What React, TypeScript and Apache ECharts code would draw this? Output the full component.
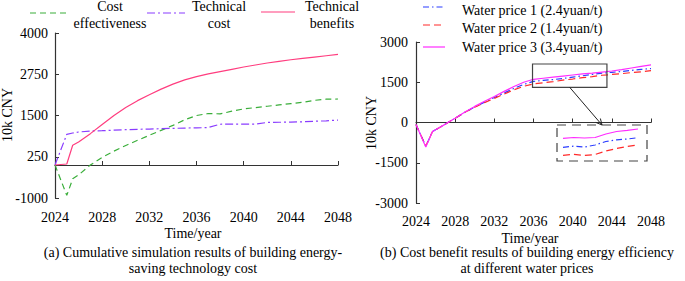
import React, { useEffect, useRef } from "react";
import * as echarts from "echarts";

// ---------- data (a) ----------
const leftYears = [2024, 2025, 2025.5, 2026, 2027, 2028, 2029, 2030, 2031, 2032, 2033, 2034, 2035, 2036, 2037, 2038, 2039, 2040, 2041, 2042, 2043, 2044, 2045, 2046, 2047, 2048];
const costEffectiveness = [0, -920, -420, -300, 0, 230, 420, 590, 750, 900, 1050, 1200, 1370, 1500, 1560, 1550, 1630, 1700, 1740, 1780, 1820, 1860, 1900, 1960, 1995, 2000];
const technicalCost = [0, 930, 970, 1000, 1030, 1040, 1055, 1070, 1080, 1090, 1100, 1110, 1120, 1125, 1135, 1235, 1240, 1240, 1240, 1290, 1295, 1300, 1310, 1325, 1340, 1360];
const technicalBenefits = [0, 30, 600, 700, 950, 1230, 1500, 1740, 1950, 2130, 2300, 2450, 2580, 2680, 2760, 2830, 2900, 2970, 3030, 3090, 3140, 3190, 3230, 3270, 3310, 3350];
const leftYTicks = [-1000, 250, 1500, 2750, 4000];

// ---------- data (b) ----------
const rightYears = [2024, 2025, 2025.7, 2026, 2027, 2028, 2029, 2030, 2031, 2032, 2033, 2034, 2035, 2036, 2037, 2038, 2039, 2040, 2041, 2042, 2043, 2044, 2045, 2046, 2047, 2048];
const waterPrice1 = [-75, -880, -330, -270, -60, 160, 380, 580, 760, 930, 1100, 1270, 1420, 1530, 1570, 1600, 1640, 1690, 1740, 1790, 1840, 1870, 1900, 1940, 1980, 2010];
const waterPrice2 = [-75, -880, -330, -270, -60, 160, 380, 570, 740, 900, 1060, 1220, 1350, 1440, 1480, 1520, 1580, 1620, 1670, 1710, 1760, 1790, 1820, 1860, 1890, 1930];
const waterPrice3 = [-75, -910, -330, -270, -60, 160, 390, 600, 790, 970, 1160, 1340, 1500, 1610, 1650, 1690, 1730, 1770, 1810, 1840, 1880, 1920, 1970, 2030, 2090, 2150];

// ---------- magnified inset (b) ----------
const insetYears = [2036, 2037, 2038, 2039, 2040, 2041, 2042, 2043];
const insetPrice3 = [1778, 1792, 1783, 1792, 1850, 1892, 1912, 1933];
const insetPrice1 = [1628, 1647, 1633, 1667, 1725, 1753, 1767, 1788];
const insetPrice2 = [1495, 1512, 1492, 1508, 1567, 1608, 1642, 1667];
const zoomBox = { from: 2035.9, to: 2043.5, low: 1310, high: 2180 };

const pairs = (xs: number[], ys: number[]) => xs.map((x, i) => [x, ys[i]]);

const FAMILY = "Liberation Serif";
const AXIS = "#333";
const GREEN = "#3aae3a";
const PURPLE = "#8a3cff";
const PINK = "#ff3d7f";
const BLUE = "#2a3cff";
const RED = "#ff2a2a";
const MAGENTA = "#ff2bff";

const dashGreen = [6, 4];
const dashPurple = [8, 3, 2, 3];
const dashBlue = [6, 3, 1.5, 3];
const dashRed = [7, 4];

const plain = (v: number) => String(v);
const labelStyle = { color: "#000", fontFamily: FAMILY, fontSize: 14, fontWeight: "normal" };

function xAxisCfg(gridIndex: number, margin: number) {
  return {
    type: "value",
    gridIndex,
    min: 2024,
    max: 2048,
    interval: 4,
    axisLine: { show: true, lineStyle: { color: AXIS, width: 1.2 } },
    axisTick: { show: true, inside: true, length: 4, lineStyle: { color: AXIS } },
    axisLabel: { margin, ...labelStyle, formatter: plain },
    splitLine: { show: false },
  };
}

function text(x: number, y: number, t: string, extra: any = {}) {
  return {
    type: "text",
    x,
    y,
    style: {
      text: t,
      fill: "#000",
      fontFamily: FAMILY,
      fontSize: 14,
      align: "center",
      verticalAlign: "middle",
      ...extra,
    },
  };
}

function sample(x1: number, x2: number, y: number, color: string, dash: number[] | null) {
  return {
    type: "line",
    shape: { x1, y1: y, x2, y2: y },
    style: { stroke: color, lineWidth: 1.2, lineDash: dash || undefined },
  };
}

export default function App() {
  const ref = useRef<HTMLDivElement>(null);
  useEffect(() => {
    if (!ref.current) return;
    const chart = echarts.init(ref.current, null, { renderer: "svg" });
    const lineSeries = (name: string, xi: number, data: any[], color: string, dash: any, z = 2) => ({
      type: "line",
      name,
      xAxisIndex: xi,
      yAxisIndex: xi,
      data,
      showSymbol: false,
      symbol: "none",
      smooth: false,
      z,
      lineStyle: { color, width: 1.2, type: dash },
    });

    const baseGraphics: any[] = [
      // legend (a)
      sample(30, 68, 13, GREEN, dashGreen),
      text(110, 6, "Cost"),
      text(110, 23, "effectiveness"),
      sample(147, 185, 13, PURPLE, dashPurple),
      text(219, 6, "Technical"),
      text(219, 23, "cost"),
      sample(261, 295, 12, PINK, null),
      text(332, 6, "Technical"),
      text(332, 23, "benefits"),
      // legend (b)
      sample(423, 445, 7, BLUE, dashBlue),
      text(462, 10, "Water price 1 (2.4yuan/t)", { align: "left" }),
      sample(423, 445, 25, RED, dashRed),
      text(462, 28, "Water price 2 (1.4yuan/t)", { align: "left" }),
      sample(423, 445, 47, MAGENTA, null),
      text(462, 47, "Water price 3 (3.4yuan/t)", { align: "left" }),
      // axis names
      { ...text(7, 115, "10k CNY"), rotation: Math.PI / 2 },
      { ...text(371, 123, "10k CNY"), rotation: Math.PI / 2 },
      text(193, 233, "Time/year"),
      text(530, 238, "Time/year"),
      // captions
      text(193, 252, "(a) Cumulative simulation results of building energy-"),
      text(193, 268, "saving technology cost"),
      text(527, 252, "(b) Cost benefit results of building energy efficiency"),
      text(527, 268, "at different water prices"),
      // inset frame
      {
        type: "rect",
        shape: { x: 557, y: 125, width: 90, height: 36 },
        style: { fill: "none", stroke: "#444", lineWidth: 1.2, lineDash: [9, 6] },
      },
    ];

    chart.setOption({
      animation: false,
      textStyle: { fontFamily: FAMILY },
      grid: [
        { left: 55, top: 33, width: 283, height: 165 },
        { left: 416, top: 42, width: 235, height: 161 },
        { left: 563, top: 125, width: 75, height: 36 },
      ],
      xAxis: [
        xAxisCfg(0, 12),
        xAxisCfg(1, 11),
        { type: "value", gridIndex: 2, min: 2036, max: 2043, show: false, splitLine: { show: false } },
      ],
      yAxis: [
        {
          type: "value",
          gridIndex: 0,
          min: -1000,
          max: 4000,
          axisLine: { show: true, lineStyle: { color: AXIS, width: 1.2 } },
          axisTick: { show: true, inside: true, length: 4, lineStyle: { color: AXIS }, customValues: leftYTicks },
          axisLabel: { margin: 7, ...labelStyle, customValues: leftYTicks, formatter: plain },
          splitLine: { show: false },
        },
        {
          type: "value",
          gridIndex: 1,
          min: -3000,
          max: 3000,
          interval: 1500,
          axisLine: { show: true, lineStyle: { color: AXIS, width: 1.2 } },
          axisTick: { show: true, inside: true, length: 4, lineStyle: { color: AXIS } },
          axisLabel: { margin: 8, ...labelStyle, formatter: plain },
          splitLine: { show: false },
        },
        { type: "value", gridIndex: 2, min: 1400, max: 2000, show: false, splitLine: { show: false } },
      ],
      series: [
        lineSeries("Cost effectiveness", 0, pairs(leftYears, costEffectiveness), GREEN, dashGreen),
        lineSeries("Technical cost", 0, pairs(leftYears, technicalCost), PURPLE, dashPurple),
        lineSeries("Technical benefits", 0, pairs(leftYears, technicalBenefits), PINK, "solid", 3),
        lineSeries("Water price 1 (2.4yuan/t)", 1, pairs(rightYears, waterPrice1), BLUE, dashBlue),
        lineSeries("Water price 2 (1.4yuan/t)", 1, pairs(rightYears, waterPrice2), RED, dashRed),
        lineSeries("Water price 3 (3.4yuan/t)", 1, pairs(rightYears, waterPrice3), MAGENTA, "solid", 3),
        lineSeries("inset 1", 2, pairs(insetYears, insetPrice1), BLUE, dashBlue),
        lineSeries("inset 2", 2, pairs(insetYears, insetPrice2), RED, dashRed),
        lineSeries("inset 3", 2, pairs(insetYears, insetPrice3), MAGENTA, "solid", 3),
      ],
      graphic: baseGraphics,
    });

    // zoom box + arrow positioned from data coordinates
    const p0 = chart.convertToPixel({ xAxisIndex: 1, yAxisIndex: 1 } as any, [zoomBox.from, zoomBox.high]) as number[];
    const p1 = chart.convertToPixel({ xAxisIndex: 1, yAxisIndex: 1 } as any, [zoomBox.to, zoomBox.low]) as number[];
    if (p0 && p1) {
      const bx = p0[0], by = p0[1], bw = p1[0] - p0[0], bh = p1[1] - p0[1];
      const sx = bx + bw / 2, sy = by + bh;
      const tx = 602, ty = 125;
      const dx = tx - sx, dy = ty - sy;
      const L = Math.sqrt(dx * dx + dy * dy);
      const ux = dx / L, uy = dy / L;
      const hx = tx - ux * 6, hy = ty - uy * 6;
      const nx = -uy * 3, ny = ux * 3;
      chart.setOption({
        graphic: [
          ...baseGraphics,
          {
            type: "rect",
            shape: { x: bx, y: by, width: bw, height: bh },
            style: { fill: "none", stroke: "#444", lineWidth: 1.2 },
            z: 10,
          },
          {
            type: "line",
            shape: { x1: sx, y1: sy, x2: tx, y2: ty },
            style: { stroke: "#222", lineWidth: 1 },
            z: 10,
          },
          {
            type: "polyline",
            shape: { points: [[hx + nx, hy + ny], [tx, ty], [hx - nx, hy - ny]] },
            style: { stroke: "#222", lineWidth: 1, fill: "none" },
            z: 10,
          },
        ],
      }, { replaceMerge: ["graphic"] } as any);
    }

    return () => chart.dispose();
  }, []);

  return (
    <div
      ref={ref}
      style={{ position: "absolute", left: 0, top: 0, width: 685, height: 281, background: "#fff" }}
    />
  );
}
